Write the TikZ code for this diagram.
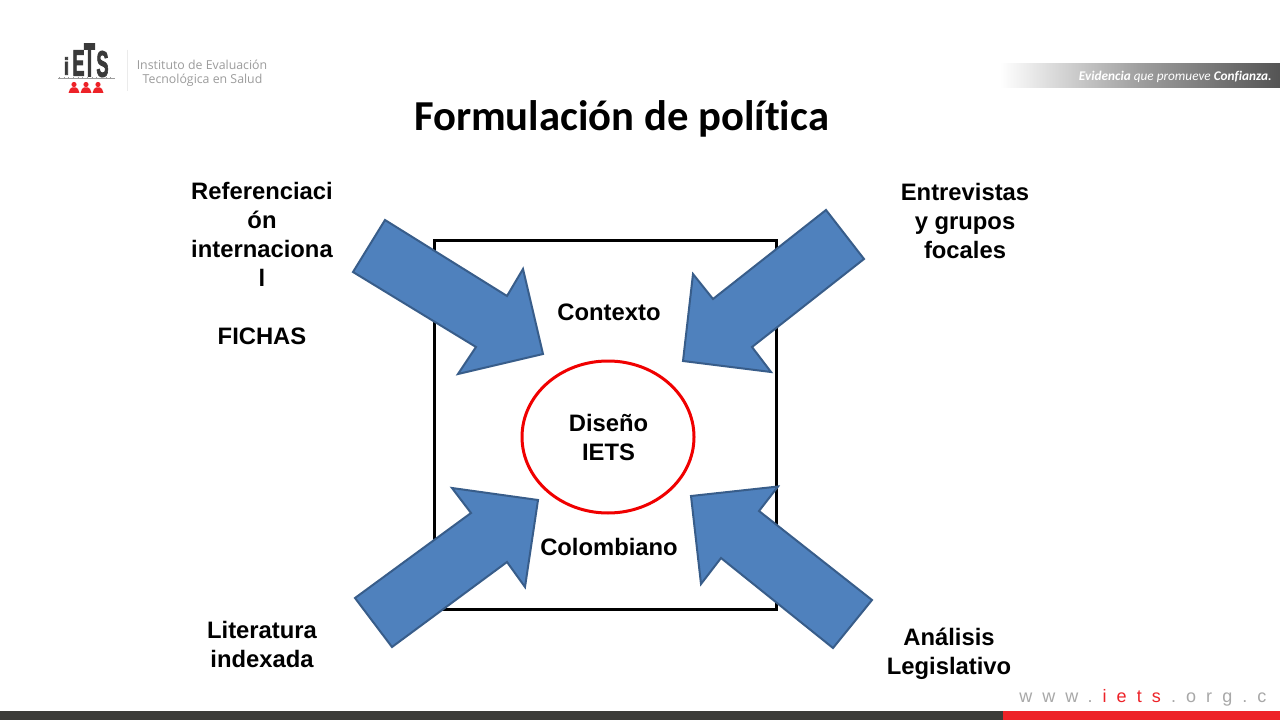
\documentclass[tikz,border=0pt]{standalone}
\usepackage{fontspec}
\usepackage{graphicx}
\usetikzlibrary{shapes.geometric}
\setmainfont{Liberation Sans}
\newfontfamily\titlefont[Ligatures=NoCommon]{Carlito}
\newfontfamily\logofont{Open Sans}
\newfontfamily\heavyfont[FakeBold=3]{Liberation Sans Bold}
\newfontfamily\urlfont[LetterSpace=56]{Liberation Sans}
\definecolor{arrowfill}{HTML}{4F81BD}
\definecolor{arrowline}{HTML}{385D8A}
\definecolor{ietsred}{HTML}{ED2228}
\definecolor{ringred}{HTML}{F00000}
\definecolor{barblack}{HTML}{3B3B38}
\definecolor{logodark}{HTML}{3A3A3A}
\definecolor{logogrey}{HTML}{9C9C9C}
\definecolor{urlgrey}{HTML}{A8A8A8}
\tikzset{
  bigarrow/.style={fill=arrowfill,draw=arrowline,line width=1.5pt,line join=miter},
  lbl/.style={font=\fontsize{17.85}{21.75}\selectfont\bfseries,align=center,text=black,inner sep=0pt},
  logotext/.style={font=\logofont\fontsize{9.25}{11}\selectfont,text=logogrey,inner sep=0pt},
  logoletter/.style={font=\heavyfont\fontsize{22}{22}\selectfont,text=logodark,inner sep=0pt},
  person/.style={fill=ietsred,draw=none}
}
\begin{document}
\begin{tikzpicture}[x=0.75pt,y=-0.75pt]
\useasboundingbox (0,0) rectangle (1280,720);
\fill[white] (0,0) rectangle (1280,720);

% bottom bar
\fill[barblack] (0,711) rectangle (1003,720);
\fill[ietsred] (1003,711) rectangle (1280,720);

% banner
\shade[left color=white,right color=white!33!black!100,middle color=white!62!black] (1000,64) rectangle (1280,88);
\node[inner sep=0pt,anchor=east,text=white,font=\titlefont\fontsize{9.95}{12}\selectfont] (slogan) at (1272,76.5) {\textbf{\textit{Evidencia}} \textit{que promueve} \textbf{\textit{Confianza.}}};

% logo
\node[logoletter,anchor=center] (li) at (66.5,66) {\scalebox{0.62}[0.82]{i}};
\node[logoletter,anchor=center] (le) at (78.5,63) {\scalebox{0.62}[1.25]{E}};
\node[logoletter,anchor=center] (lt) at (89.5,60) {\scalebox{0.62}[1.6]{T}};
\node[logoletter,anchor=center] (ls) at (102.5,64) {\scalebox{0.62}[1.25]{S}};
\draw[logogrey,line width=0.4pt] (58,78) -- (115,78);
\draw[logogrey,dash pattern=on 0.5pt off 3pt,line width=2pt] (59,78) -- (115,78);
\foreach \c in {74,86,98}{
  \fill[person] (\c,84.5) circle[radius=2.6];
  \fill[person] (\c-5.5,93) -- (\c-4,89) -- (\c-2,87.5) -- (\c+2,87.5) -- (\c+4,89) -- (\c+5.5,93) -- cycle;
}
\draw[black!8,line width=0.75pt] (127,50) -- (127,91);
\node[logotext,anchor=center] (inst1) at (202,65) {Instituto de Evaluación};
\node[logotext,anchor=center] (inst2) at (202.5,80.5) {Tecnológica en Salud};

% title
\node[inner sep=0pt,anchor=center,font=\titlefont\bfseries\fontsize{32}{38}\selectfont] (title) at (621.5,118.5) {Formulación de política};

% frame and circle
\node[draw=black,line width=2.25pt,minimum width=257pt,minimum height=277pt,inner sep=0pt,fill=white,anchor=center] (frame) at (605.5,425.2) {};
\node[draw=ringred,line width=2.25pt,ellipse,minimum width=129pt,minimum height=114pt,inner sep=0pt] (circle) at (608,437) {};

% arrows
\draw[bigarrow] (385,220) -- (507,296) -- (523,269) -- (543,354) -- (458,374) -- (476,347) -- (353,272) -- cycle;
\draw[bigarrow] (826,210) -- (864,259) -- (752,347) -- (771,372) -- (683,361) -- (693,274) -- (713,299) -- cycle;
\draw[bigarrow] (355,598) -- (471,513) -- (452,488) -- (538,500) -- (525,587) -- (507,562) -- (392,647) -- cycle;
\draw[bigarrow] (691,496) -- (778,486.5) -- (759,511) -- (872,600) -- (833,648) -- (721,558) -- (701,584) -- cycle;

% labels
\node[lbl] (contexto) at (609,312) {Contexto};
\node[lbl] (colombiano) at (609,547) {Colombiano};
\node[lbl] (diseno) at (608.5,437.5) {Diseño\\IETS};
\node[lbl] (ref) at (262,263.5) {Referenciaci\\ón\\internaciona\\l\\\mbox{}\\FICHAS};
\node[lbl] (ent) at (965,221) {Entrevistas\\y grupos\\focales};
\node[lbl] (lit) at (262,644.5) {Literatura\\indexada};
\node[lbl] (ana) at (949,653.5) {Análisis\\Legislativo};

% url
\node[inner sep=0pt,anchor=west,font=\urlfont\fontsize{13.5}{16}\selectfont,text=urlgrey] (url) at (1019,697.5) {www.\kern7.6pt{\color{ietsred}iets}\kern7.6pt.org.c};
\end{tikzpicture}
\end{document}
